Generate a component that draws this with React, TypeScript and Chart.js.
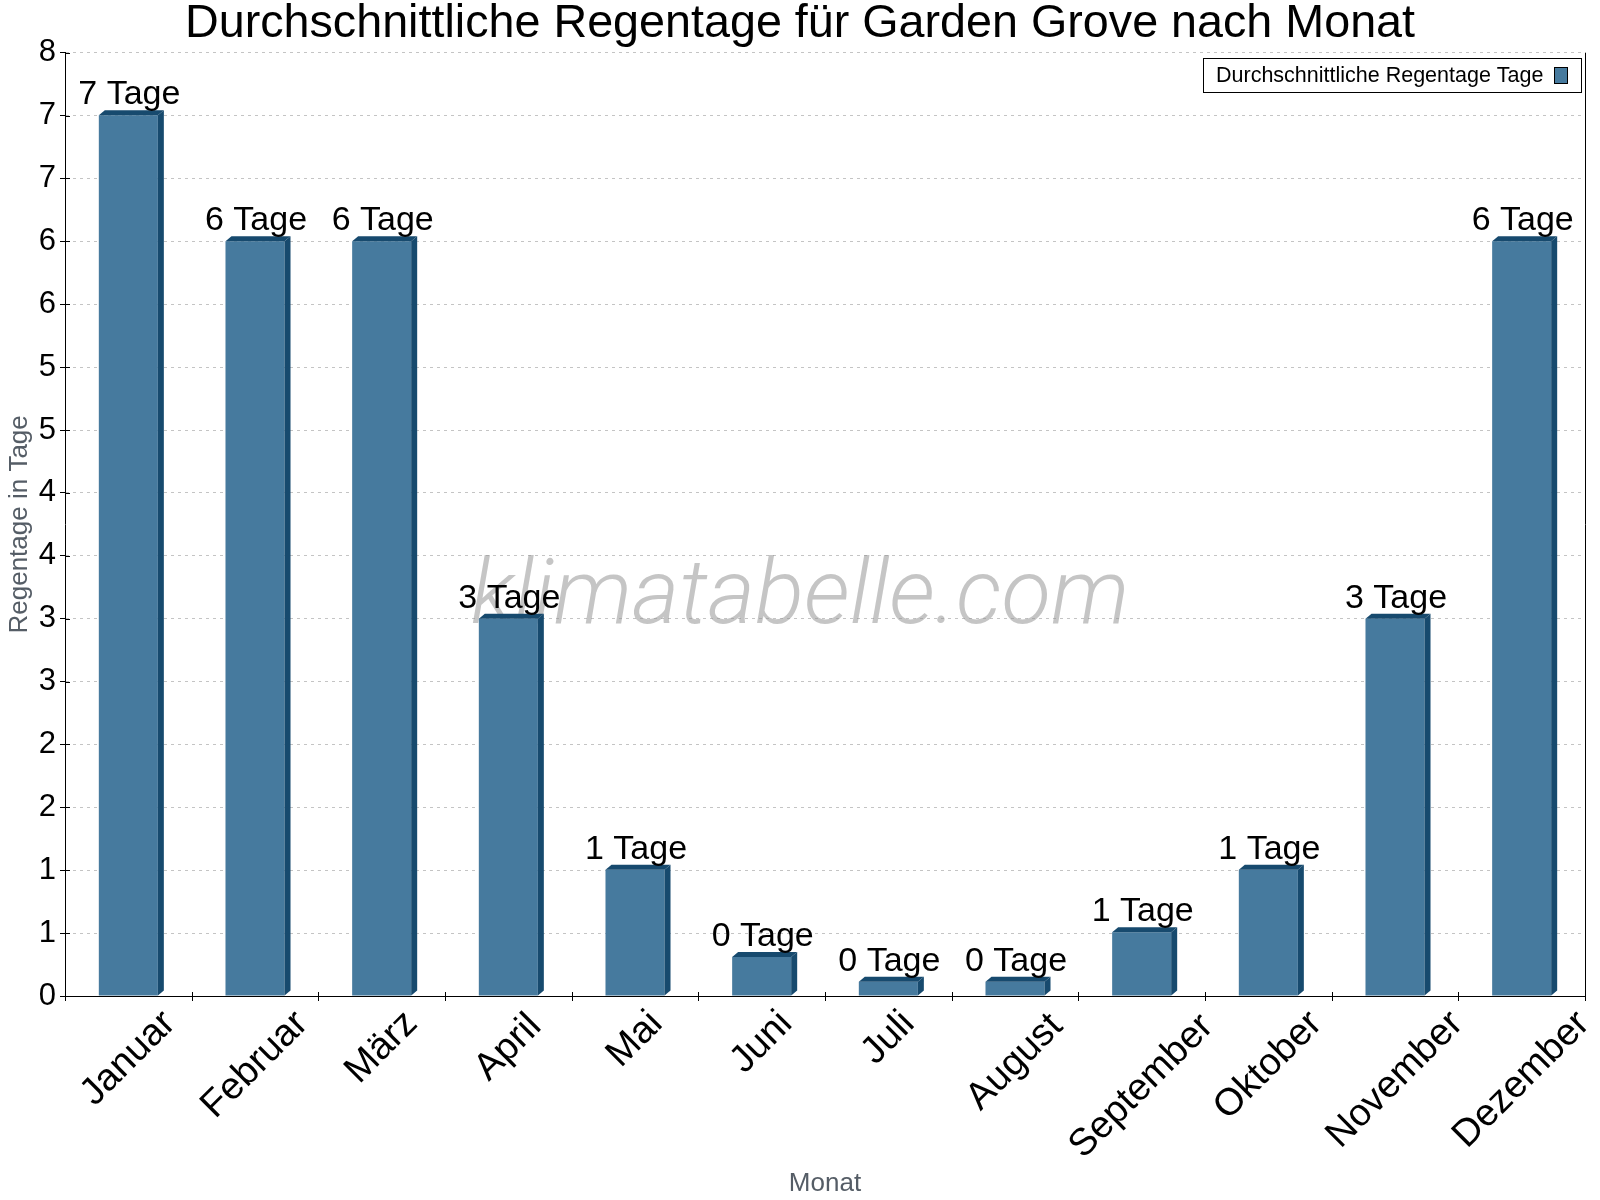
import React, { useEffect, useRef } from 'react';
import { Chart, registerables } from 'chart.js';

Chart.register(...registerables);

const FONT = "'Liberation Sans', Arial, Helvetica, sans-serif";

// data
const months = ['Januar', 'Februar', 'März', 'April', 'Mai', 'Juni', 'Juli', 'August', 'September', 'Oktober', 'November', 'Dezember'];
const rainDays = [7.47, 6.4, 6.4, 3.2, 1.07, 0.33, 0.12, 0.12, 0.54, 1.07, 3.2, 6.4];
const dayLabels = ['7 Tage', '6 Tage', '6 Tage', '3 Tage', '1 Tage', '0 Tage', '0 Tage', '0 Tage', '1 Tage', '1 Tage', '3 Tage', '6 Tage'];
const yMin = 0;
const yMax = 8;
const yTickCount = 16;

const FRONT = '#467a9e';
const SIDE = '#174a6e';

const barPlugin = {
  id: 'bars3d',
  beforeDatasetsDraw(chart: any) {
    const { ctx } = chart;
    ctx.save();
    ctx.font = `italic 300 91px Roboto, ${FONT}`;
    ctx.fillStyle = 'rgba(150,150,150,0.55)';
    ctx.textAlign = 'center';
    ctx.textBaseline = 'alphabetic';
    ctx.fillText('klimatabelle.com', 800, 623);
    ctx.restore();
  },
  afterDatasetsDraw(chart: any) {
    const { ctx } = chart;
    const meta = chart.getDatasetMeta(0);
    const dx = 6, dy = 5;
    ctx.save();
    meta.data.forEach((bar: any, i: number) => {
      const { x, y, base, width } = bar.getProps(['x', 'y', 'base', 'width'], true);
      const l = x - width / 2;
      const r = x + width / 2;
      ctx.fillStyle = SIDE;
      // side
      ctx.beginPath();
      ctx.moveTo(r, y);
      ctx.lineTo(r + dx, y - dy);
      ctx.lineTo(r + dx, base - dy);
      ctx.lineTo(r, base);
      ctx.closePath();
      ctx.fill();
      // top
      ctx.beginPath();
      ctx.moveTo(l, y);
      ctx.lineTo(l + dx, y - dy);
      ctx.lineTo(r + dx, y - dy);
      ctx.lineTo(r, y);
      ctx.closePath();
      ctx.fill();
      // value label
      ctx.fillStyle = '#000';
      ctx.font = `34px ${FONT}`;
      ctx.textAlign = 'center';
      ctx.textBaseline = 'alphabetic';
      ctx.fillText(dayLabels[i], x + 1, y - 11);
    });
    ctx.restore();
  },
  afterDraw(chart: any) {
    const { ctx, chartArea } = chart;
    const xs = chart.scales.x;
    const ys = chart.scales.y;
    ctx.save();
    ctx.strokeStyle = '#000';
    ctx.lineWidth = 1;
    // right border
    ctx.beginPath();
    ctx.moveTo(chartArea.right + 0.5, chartArea.top);
    ctx.lineTo(chartArea.right + 0.5, chartArea.bottom);
    ctx.stroke();
    // x tick marks at category boundaries
    const step = (chartArea.right - chartArea.left) / months.length;
    for (let i = 0; i <= months.length; i++) {
      const px = Math.round(chartArea.left + i * step) + 0.5;
      ctx.beginPath();
      ctx.moveTo(px, chartArea.bottom - 4);
      ctx.lineTo(px, chartArea.bottom + 5);
      ctx.stroke();
    }
    // inner halves of y tick marks
    ys.ticks.forEach((t: any) => {
      const py = Math.round(ys.getPixelForValue(t.value)) + 0.5;
      ctx.beginPath();
      ctx.moveTo(chartArea.left, py);
      ctx.lineTo(chartArea.left + 5, py);
      ctx.stroke();
    });
    // rotated month labels, centred on the category
    ctx.font = `38px ${FONT}`;
    ctx.fillStyle = '#000';
    ctx.textAlign = 'center';
    ctx.textBaseline = 'middle';
    months.forEach((m, i) => {
      const cx = xs.getPixelForValue(i);
      const mt = ctx.measureText(m);
      const h = mt.actualBoundingBoxAscent + mt.actualBoundingBoxDescent;
      const ext = (mt.width + h) / (2 * Math.SQRT2);
      const cy = chartArea.bottom + 12 + ext;
      ctx.save();
      ctx.translate(cx, cy);
      ctx.rotate(-Math.PI / 4);
      ctx.fillText(m, 0, 0);
      ctx.restore();
    });
    // legend
    const lx = 1203, ly = 58, lw = 378, lh = 34;
    ctx.fillStyle = '#fff';
    ctx.fillRect(lx, ly, lw, lh);
    ctx.strokeStyle = '#000';
    ctx.strokeRect(lx + 0.5, ly + 0.5, lw, lh);
    ctx.fillStyle = '#000';
    ctx.font = `21.5px ${FONT}`;
    ctx.textAlign = 'left';
    ctx.textBaseline = 'middle';
    ctx.fillText(chart.data.datasets[0].label, 1216, ly + lh / 2 + 1);
    ctx.fillStyle = FRONT;
    ctx.fillRect(1554, 67, 13, 16);
    ctx.strokeRect(1554.5, 67.5, 13, 16);
    ctx.restore();
  },
};

export default function App() {
  const chartRef = useRef<HTMLCanvasElement>(null);
  const chartInstance = useRef<Chart | null>(null);

  useEffect(() => {
    if (!chartRef.current) return;
    if (chartInstance.current) chartInstance.current.destroy();
    const ctx = chartRef.current.getContext('2d');
    if (!ctx) return;

    Chart.defaults.font.family = FONT;
    Chart.defaults.color = '#000';

    chartInstance.current = new Chart(ctx, {
      type: 'bar',
      data: {
        labels: months,
        datasets: [{
          label: 'Durchschnittliche Regentage Tage',
          data: rainDays,
          backgroundColor: FRONT,
          borderWidth: 0,
          categoryPercentage: 1,
          barPercentage: 0.466,
        }],
      },
      options: {
        animation: false,
        responsive: true,
        maintainAspectRatio: false,
        layout: { padding: { left: 15, right: 15, top: 0, bottom: 0 } },
        plugins: {
          legend: { display: false },
          tooltip: { enabled: false },
          title: {
            display: true,
            text: 'Durchschnittliche Regentage für Garden Grove nach Monat',
            font: { size: 46.7, weight: 'normal', lineHeight: 1 },
            color: '#000',
            padding: { top: 1, bottom: 5 },
          },
        },
        scales: {
          x: {
            offset: true,
            grid: { display: false },
            border: { display: true, color: '#000', width: 1 },
            ticks: { display: false },
            title: {
              display: true,
              text: 'Monat',
              color: '#555d66',
              font: { size: 26, lineHeight: 1.2 },
              padding: { top: 0, bottom: 1 },
            },
            afterFit: (s: any) => { s.height = 204; },
          },
          y: {
            min: yMin,
            max: yMax,
            grid: {
              color: '#c4c4c4',
              drawTicks: true,
              tickLength: 5,
              tickColor: '#000',
              tickBorderDash: [],
            },
            border: { display: true, color: '#000', width: 1, dash: [3, 4] },
            ticks: {
              count: yTickCount,
              padding: 4,
              color: '#000',
              font: { size: 31 },
              callback: (v: any) => String(Math.round(Number(v))),
            },
            title: {
              display: true,
              text: 'Regentage in Tage',
              color: '#555d66',
              font: { size: 26, lineHeight: 0.4 },
              padding: { top: 0, bottom: 0 },
            },
            afterFit: (s: any) => { s.width = 50; },
          },
        },
      },
      plugins: [barPlugin],
    });

    return () => {
      if (chartInstance.current) {
        chartInstance.current.destroy();
        chartInstance.current = null;
      }
    };
  }, []);

  return (
    <div style={{ position: 'absolute', left: 0, top: 0, width: 1600, height: 1200, background: '#fff' }}>
      <canvas ref={chartRef} style={{ width: '1600px', height: '1200px' }}></canvas>
    </div>
  );
}
